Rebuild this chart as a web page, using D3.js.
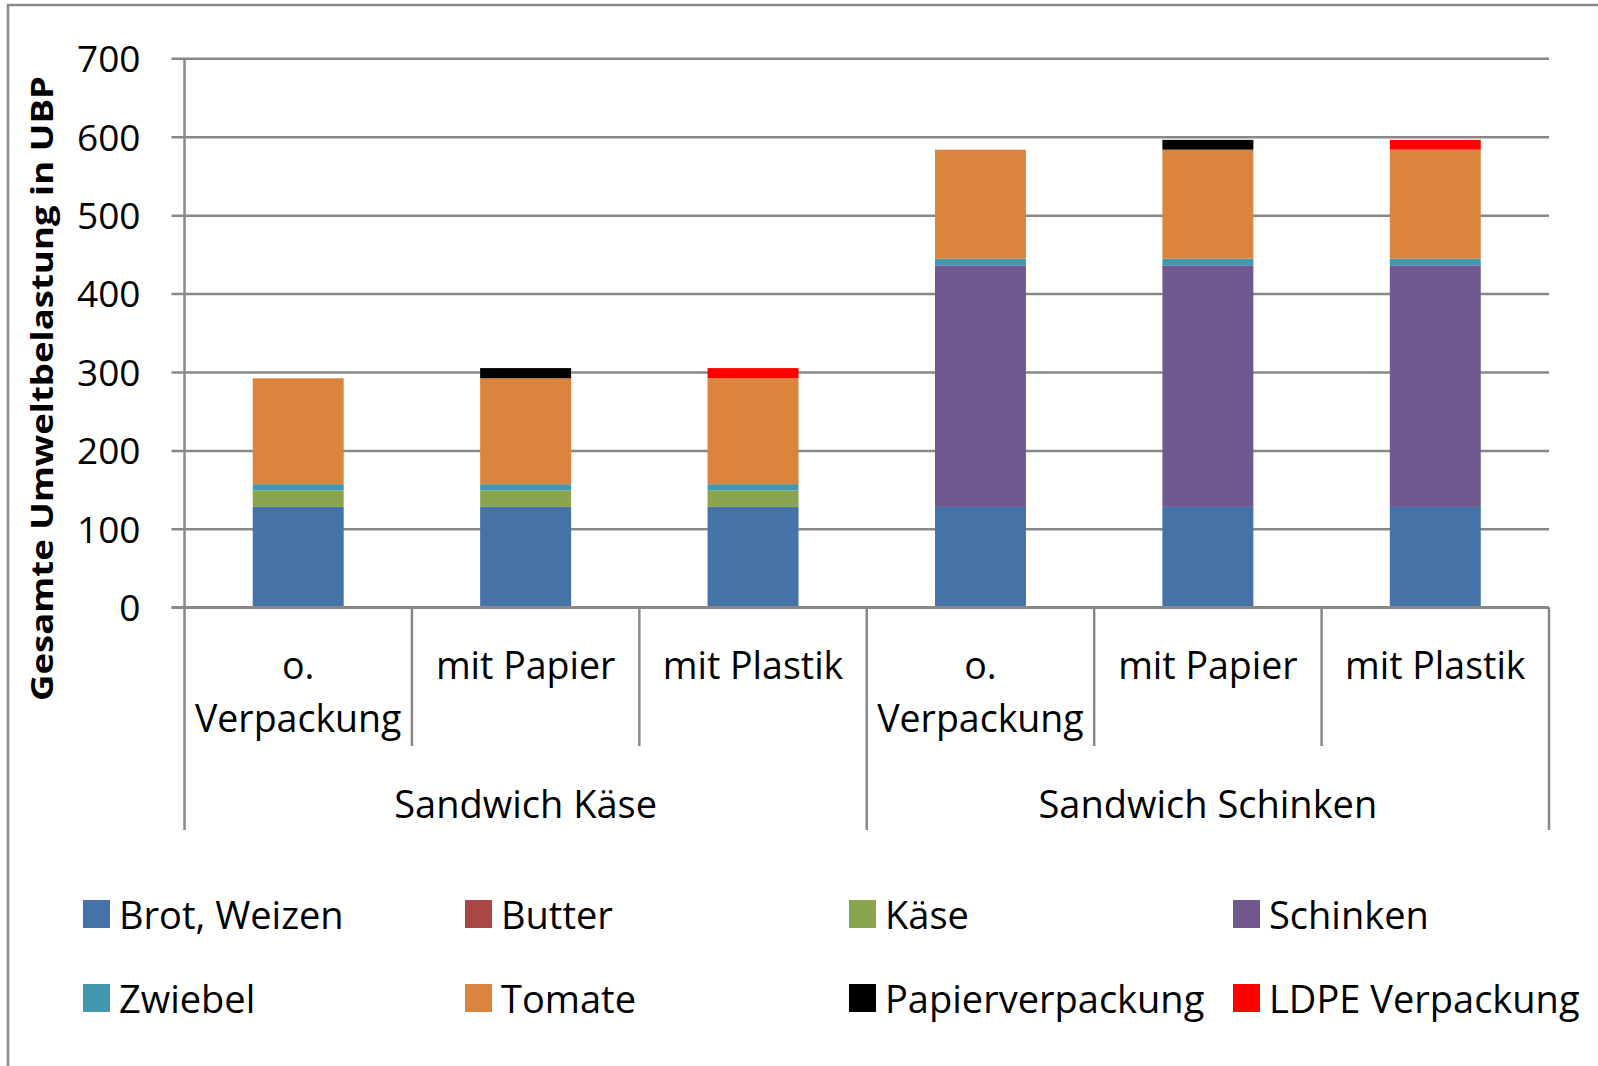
<!DOCTYPE html>
<html>
<head>
<meta charset="utf-8">
<script src="https://cdn.jsdelivr.net/npm/d3@7"></script>
<style>
  html, body { margin: 0; padding: 0; background: #ffffff; }
  svg { display: block; }
  text { font-family: "Open Sans", "Noto Sans", sans-serif; fill: #000; }
</style>
</head>
<body>
<svg id="chart" width="1598" height="1066"></svg>
<script>
// ---- data ----
const subCategories = [["o.", "Verpackung"], ["mit Papier"], ["mit Plastik"], ["o.", "Verpackung"], ["mit Papier"], ["mit Plastik"]];
const groups = ["Sandwich Käse", "Sandwich Schinken"];
const seriesNames = ["Brot, Weizen", "Butter", "Käse", "Schinken", "Zwiebel", "Tomate", "Papierverpackung", "LDPE Verpackung"];
const seriesColors = ["#4572A7", "#AA4643", "#89A54E", "#71588F", "#4198AF", "#DB843D", "#000000", "#FF0000"];
const brot     = [128, 128, 128, 128, 128, 128];
const butter   = [0, 0, 0, 0, 0, 0];
const kaese    = [21, 21, 21, 0, 0, 0];
const schinken = [0, 0, 0, 308, 308, 308];
const zwiebel  = [8, 8, 8, 8.5, 8.5, 8.5];
const tomate   = [135, 135, 135, 139, 139, 139];
const papier   = [0, 13, 0, 0, 12.5, 0];
const ldpe     = [0, 0, 13, 0, 0, 12.5];
const yTicks   = [0, 100, 200, 300, 400, 500, 600, 700];

const seriesValues = [brot, butter, kaese, schinken, zwiebel, tomate, papier, ldpe];

(function () {
// ---- layout ----
const svg = d3.select("#chart");
const pLeft = 184.5, pRight = 1549, pTop = 58.3, pBottom = 607.3;
const gridColor = "#888888";

// outer border (top/left visible)
svg.append("rect")
  .attr("x", 8).attr("y", 5).attr("width", 1620).attr("height", 1100)
  .attr("fill", "none").attr("stroke", "#8a8a8a").attr("stroke-width", 2.5);

const idx = d3.range(subCategories.length);
const x = d3.scaleBand().domain(idx).range([pLeft, pRight]).paddingInner(0.6).paddingOuter(0.3);
const y = d3.scaleLinear().domain([0, 700]).range([pBottom, pTop]);

// y axis with gridlines
const yAxis = d3.axisLeft(y).tickValues(yTicks).tickSizeInner(-(pRight - pLeft)).tickSizeOuter(0).tickPadding(0);
const ga = svg.append("g").attr("transform", `translate(${pLeft},0)`).call(yAxis);
ga.select(".domain").remove();
ga.selectAll(".tick line").attr("x1", -13).attr("stroke", gridColor).attr("stroke-width", 2.5);
ga.selectAll(".tick text")
  .attr("x", -44).attr("dy", "0.36em")
  .style("font-size", "37px").style("font-family", "'Open Sans', sans-serif")
  .attr("fill", "#000");

// stacked bars
const table = idx.map(i => {
  const row = { i };
  seriesNames.forEach((s, k) => row[s] = seriesValues[k][i]);
  return row;
});
const stack = d3.stack().keys(seriesNames)(table);
const color = d3.scaleOrdinal().domain(seriesNames).range(seriesColors);

svg.append("g").selectAll("g").data(stack).join("g")
  .attr("fill", d => color(d.key))
  .selectAll("rect").data(d => d).join("rect")
  .attr("x", d => x(d.data.i))
  .attr("width", x.bandwidth())
  .attr("y", d => y(d[1]))
  .attr("height", d => Math.max(0, y(d[0]) - y(d[1])));

// axis lines
const step = x.step();
const axisG = svg.append("g").attr("stroke", gridColor).attr("stroke-width", 2.5);
axisG.append("line").attr("x1", pLeft).attr("x2", pLeft).attr("y1", pTop).attr("y2", pBottom);
axisG.append("line").attr("x1", pLeft - 13).attr("x2", pRight).attr("y1", pBottom).attr("y2", pBottom);
// category separators
d3.range(subCategories.length + 1).forEach(k => {
  const xx = pLeft + k * step;
  const isGroup = (k % 3 === 0);
  axisG.append("line").attr("x1", xx).attr("x2", xx)
    .attr("y1", pBottom).attr("y2", isGroup ? 830 : 746);
});

// category labels
idx.forEach(i => {
  const cx = x(i) + x.bandwidth() / 2;
  const t = svg.append("text").attr("text-anchor", "middle").style("font-size", "37.5px");
  subCategories[i].forEach((line, j) => {
    t.append("tspan").attr("x", cx).attr("y", 679 + j * 53).text(line);
  });
});

// group labels
groups.forEach((g, gi) => {
  const cx = pLeft + (gi * 3 + 1.5) * step;
  svg.append("text").attr("x", cx).attr("y", 818).attr("text-anchor", "middle")
    .style("font-size", "38px").text(g);
});

// y axis title
svg.append("text")
  .attr("transform", "translate(53,388.5) rotate(-90)")
  .attr("text-anchor", "middle")
  .attr("textLength", 625).attr("lengthAdjust", "spacingAndGlyphs")
  .style("font-size", "31px").style("font-weight", "bold")
  .text("Gesamte Umweltbelastung in UBP");

// legend
const legX = [83, 465, 849, 1233];
const legY = [900, 984];
seriesNames.forEach((s, k) => {
  const col = k % 4, row = Math.floor(k / 4);
  const g = svg.append("g").attr("transform", `translate(${legX[col]},${legY[row]})`);
  g.append("rect").attr("width", 27).attr("height", 28).attr("fill", color(s));
  g.append("text").attr("x", 36).attr("y", 28.5).style("font-size", "38px").text(s);
});
})();
</script>
</body>
</html>
